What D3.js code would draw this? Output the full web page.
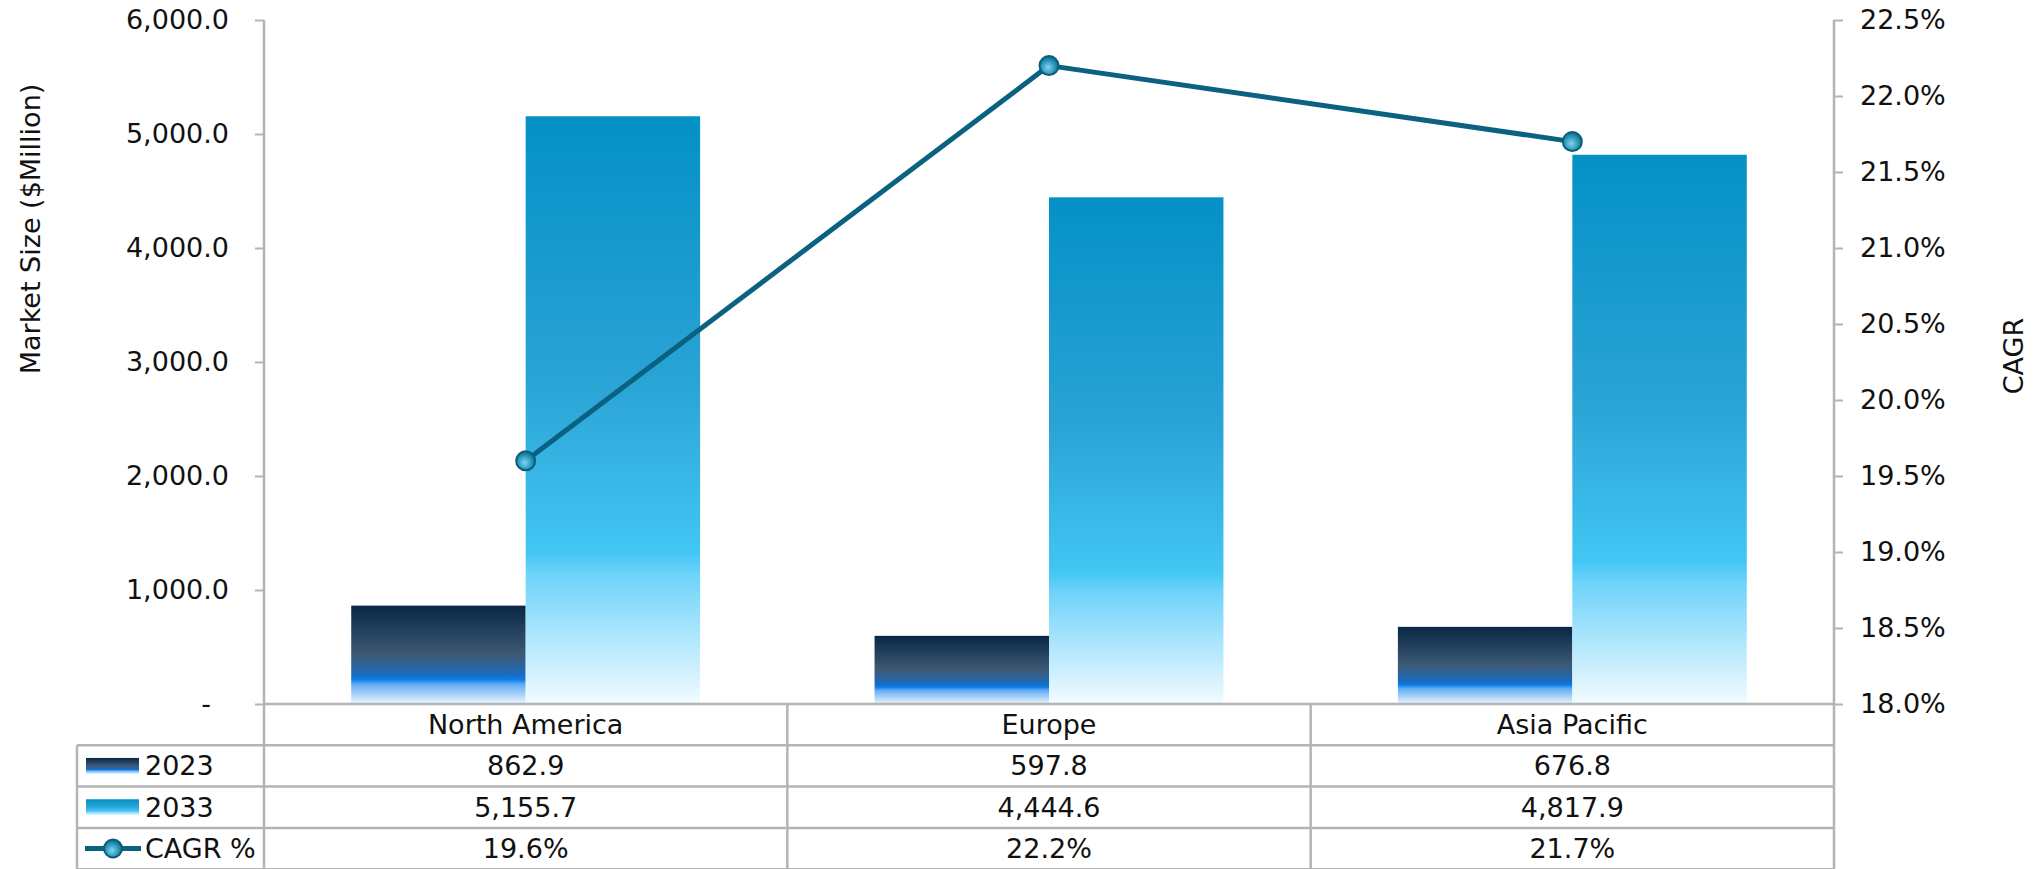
<!DOCTYPE html>
<html>
<head>
<meta charset="utf-8">
<script src="https://cdn.jsdelivr.net/npm/d3@7"></script>
<style>
  body { margin: 0; background: #fff; }
  svg { display: block; font-family: "DejaVu Sans", Verdana, sans-serif; }
</style>
</head>
<body>
<svg width="2040" height="869"></svg>
<script>
var regions = ["North America", "Europe", "Asia Pacific"];
var years = ["2023", "2033"];
var value2023 = [862.9, 597.8, 676.8];
var value2033 = [5155.7, 4444.6, 4817.9];
var cagr = [0.196, 0.222, 0.217];
var leftTicks = [0, 1000, 2000, 3000, 4000, 5000, 6000];
var rightTicks = [0.18, 0.185, 0.19, 0.195, 0.20, 0.205, 0.21, 0.215, 0.22, 0.225];

function drawChart()
{
    var svg = d3.select("svg");
    const left = 264, right = 1834, top = 20, bottom = 704;
    const rowH = 41.3;
    const fontSize = 27;
    const grid = "#b4b4b4";

    var seriesByYear = {"2023": value2023, "2033": value2033};

    // gradients, roughly the excel fills
    var defs = svg.append("defs");
    var g1 = defs.append("linearGradient").attr("id", "grad2023")
                .attr("x1", 0).attr("y1", 0).attr("x2", 0).attr("y2", 1);
    [[0, "#072746"], [0.5, "#3e5a74"], [0.7, "#1a6bbd"], [0.75, "#0a7ae8"],
     [0.8, "#62acf3"], [1, "#eef6fe"]].forEach(function(s) {
        g1.append("stop").attr("offset", s[0]).attr("stop-color", s[1]);
    });
    var g2 = defs.append("linearGradient").attr("id", "grad2033")
                .attr("x1", 0).attr("y1", 0).attr("x2", 0).attr("y2", 1);
    [[0, "#0491c6"], [0.45, "#2aa3d5"], [0.74, "#42c6f4"], [0.78, "#6fd3fa"],
     [1, "#f3fbff"]].forEach(function(s) {
        g2.append("stop").attr("offset", s[0]).attr("stop-color", s[1]);
    });
    var gm = defs.append("radialGradient").attr("id", "gradMarker")
                .attr("cx", 0.45).attr("cy", 0.6).attr("r", 0.6);
    gm.append("stop").attr("offset", 0).attr("stop-color", "#7fd6ee");
    gm.append("stop").attr("offset", 0.6).attr("stop-color", "#2b97b8");
    gm.append("stop").attr("offset", 1).attr("stop-color", "#0b6585");

    var xScale = d3.scaleBand()
                    .domain(regions)
                    .range([left, right])
                    .padding(0);
    var step = xScale.bandwidth();
    var xInner = d3.scaleBand()
                    .domain(years)
                    .range([step / 6, step * 5 / 6]);
    var yScale = d3.scaleLinear()
                    .domain([0, 6000])
                    .range([bottom, top]);
    var zScale = d3.scaleLinear()
                    .domain([0.18, 0.225])
                    .range([bottom, top]);

    // bars
    years.forEach(function(yr) {
        svg.append("g").selectAll("rect")
            .data(regions)
            .enter()
            .append("rect")
            .attr("x", (r) => xScale(r) + xInner(yr))
            .attr("width", xInner.bandwidth())
            .attr("y", (r, i) => yScale(seriesByYear[yr][i]))
            .attr("height", (r, i) => bottom - yScale(seriesByYear[yr][i]))
            .style("fill", "url(#grad" + yr + ")");
    });

    // left axis
    var fmtLeft = d3.format(",.1f");
    var y_axis = d3.axisLeft(yScale)
                    .tickValues(leftTicks)
                    .tickSize(9)
                    .tickPadding(26)
                    .tickFormat((d) => d === 0 ? "-" : fmtLeft(d));
    var ya = svg.append("g")
        .attr("transform", "translate(" + left + ",0)")
        .call(y_axis);
    ya.selectAll("text").filter((d) => d === 0).attr("dx", -18);

    // right axis
    var z_axis = d3.axisRight(zScale)
                    .tickValues(rightTicks)
                    .tickSize(9)
                    .tickPadding(17)
                    .tickFormat(d3.format(".1%"));
    var za = svg.append("g")
        .attr("transform", "translate(" + right + ",0)")
        .call(z_axis);

    [ya, za].forEach(function(a) {
        a.select(".domain").remove();
        a.selectAll("line").attr("stroke", grid).attr("stroke-width", 2);
        a.selectAll("text").attr("font-size", fontSize)
            .attr("font-family", "DejaVu Sans, Verdana, sans-serif")
            .attr("fill", "#111");
    });

    // axis titles
    svg.append("text")
        .attr("transform", "translate(30,229) rotate(-90)")
        .attr("text-anchor", "middle")
        .attr("dominant-baseline", "central")
        .attr("font-size", fontSize)
        .attr("fill", "#111")
        .text("Market Size ($Million)");
    svg.append("text")
        .attr("transform", "translate(2013,356) rotate(-90)")
        .attr("text-anchor", "middle")
        .attr("dominant-baseline", "central")
        .attr("font-size", fontSize)
        .attr("fill", "#111")
        .text("CAGR");

    // data table
    var rowY = [bottom, bottom + rowH, bottom + 2 * rowH, bottom + 3 * rowH, bottom + 4 * rowH];
    var tbl = svg.append("g");
    var legLeft = 77;
    // horizontal lines
    tbl.append("line").attr("x1", left).attr("x2", right).attr("y1", rowY[0]).attr("y2", rowY[0]);
    for (var r = 1; r < rowY.length; r++)
    {
        tbl.append("line").attr("x1", legLeft).attr("x2", right).attr("y1", rowY[r]).attr("y2", rowY[r]);
    }
    // vertical lines
    tbl.append("line").attr("x1", legLeft).attr("x2", legLeft).attr("y1", rowY[1]).attr("y2", 869);
    tbl.append("line").attr("x1", left).attr("x2", left).attr("y1", top).attr("y2", 869);
    tbl.append("line").attr("x1", right).attr("x2", right).attr("y1", top).attr("y2", 869);
    regions.slice(1).forEach(function(reg) {
        tbl.append("line").attr("x1", xScale(reg)).attr("x2", xScale(reg))
            .attr("y1", rowY[0]).attr("y2", 869);
    });
    tbl.selectAll("line").attr("stroke", grid).attr("stroke-width", 2.5);

    var fmtVal = d3.format(",.1f");
    var fmtPct = d3.format(".1%");
    var rows = [
        {label: null, cells: regions},
        {label: "2023", cells: value2023.map(fmtVal)},
        {label: "2033", cells: value2033.map(fmtVal)},
        {label: "CAGR %", cells: cagr.map(fmtPct)}
    ];
    rows.forEach(function(row, ri) {
        var cy = (rowY[ri] + rowY[ri + 1]) / 2;
        tbl.selectAll(null)
            .data(row.cells)
            .enter()
            .append("text")
            .attr("x", (d, i) => xScale(regions[i]) + step / 2)
            .attr("y", cy)
            .attr("text-anchor", "middle")
            .attr("dominant-baseline", "central")
            .attr("font-size", fontSize)
            .attr("fill", "#111")
            .text((d) => d);
        if (row.label)
        {
            tbl.append("text")
                .attr("x", 145)
                .attr("y", cy)
                .attr("dominant-baseline", "central")
                .attr("font-size", fontSize)
                .attr("fill", "#111")
                .text(row.label);
        }
    });

    // legend keys
    var keyY1 = (rowY[1] + rowY[2]) / 2, keyY2 = (rowY[2] + rowY[3]) / 2, keyY3 = (rowY[3] + rowY[4]) / 2;
    tbl.append("rect").attr("x", 86).attr("y", keyY1 - 8).attr("width", 53).attr("height", 16)
        .style("fill", "url(#grad2023)");
    tbl.append("rect").attr("x", 86).attr("y", keyY2 - 8).attr("width", 53).attr("height", 16)
        .style("fill", "url(#grad2033)");
    tbl.append("line").attr("x1", 85).attr("x2", 141).attr("y1", keyY3).attr("y2", keyY3)
        .attr("stroke", "#0a6280").attr("stroke-width", 5);
    tbl.append("circle").attr("cx", 113).attr("cy", keyY3).attr("r", 9)
        .style("fill", "url(#gradMarker)").attr("stroke", "#0a5e7a").attr("stroke-width", 2);

    // cagr line
    var line = d3.line()
        .x(function(d, i) { return xScale(regions[i]) + step / 2; })
        .y(function(d) { return zScale(d); });

    svg.append("path")
        .attr("class", "line")
        .attr("d", line(cagr))
        .attr("fill", "none")
        .attr("stroke", "#0a6280")
        .attr("stroke-width", 5)
        .attr("stroke-linejoin", "round");

    svg.append("g").selectAll("circle")
        .data(cagr)
        .enter()
        .append("circle")
        .attr("cx", (d, i) => xScale(regions[i]) + step / 2)
        .attr("cy", (d) => zScale(d))
        .attr("r", 9.5)
        .style("fill", "url(#gradMarker)")
        .attr("stroke", "#0a5e7a")
        .attr("stroke-width", 2);
}

drawChart();
</script>
</body>
</html>
